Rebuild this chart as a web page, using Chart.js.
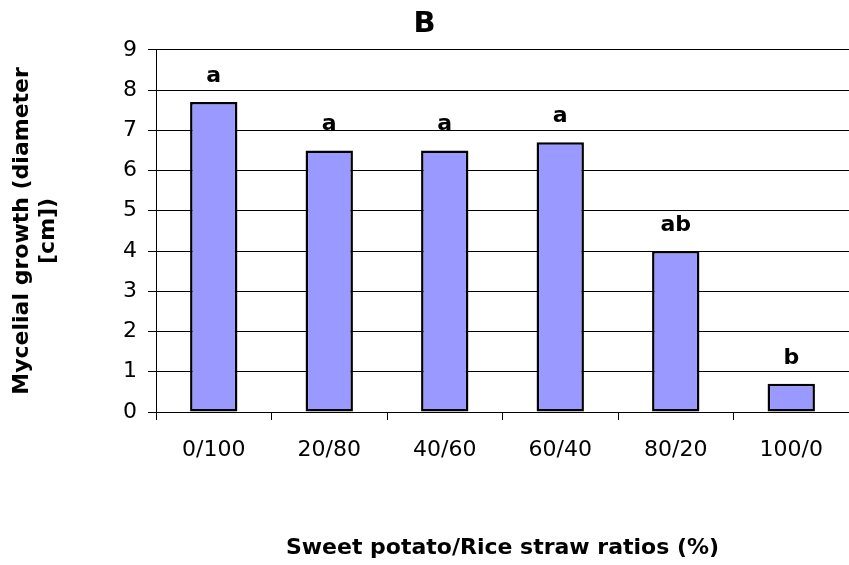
<!DOCTYPE html>
<html>
<head>
<meta charset="utf-8">
<script src="https://cdn.jsdelivr.net/npm/chart.js@4"></script>
<style>
  body { margin: 0; background: #fff; }
</style>
</head>
<body>
<canvas id="myChart" width="849" height="565"></canvas>
<script>
const ratios = ["0/100", "20/80", "40/60", "60/40", "80/20", "100/0"];
const growth = [7.7, 6.5, 6.5, 6.7, 4.0, 0.7];
const letters = ["a", "a", "a", "a", "ab", "b"];

const FONT = "'DejaVu Sans', sans-serif";

// significance letters above each bar
const letterPlugin = {
  id: "letters",
  afterDatasetsDraw(chart) {
    const c = chart.ctx;
    const meta = chart.getDatasetMeta(0);
    c.save();
    c.font = "bold 22px " + FONT;
    c.fillStyle = "#000";
    c.textAlign = "center";
    c.textBaseline = "middle";
    meta.data.forEach((bar, i) => {
      c.fillText(letters[i], bar.x, bar.y - 26);
    });
    c.restore();
  },
};

const ctx = document.getElementById("myChart").getContext("2d");
const myChart = new Chart(ctx, {
  type: "bar",
  data: {
    labels: ratios,
    datasets: [
      {
        data: growth,
        backgroundColor: "#9999FF",
        borderColor: "#000",
        borderWidth: 2.5,
        borderSkipped: false,
        categoryPercentage: 1,
        barPercentage: 0.41,
      },
    ],
  },
  options: {
    responsive: false,
    animation: false,
    layout: { padding: 0 },
    plugins: {
      legend: { display: false },
      tooltip: { enabled: false },
      title: {
        display: true,
        text: "B",
        color: "#000",
        font: { family: FONT, size: 29, weight: "bold", lineHeight: 1.2 },
        padding: { top: 7, bottom: 8 },
      },
    },
    scales: {
      x: {
        offset: true,
        grid: {
          offset: true,
          drawOnChartArea: false,
          drawTicks: true,
          tickLength: 8,
          color: "#000",
        },
        border: { color: "#000", width: 1 },
        ticks: {
          color: "#000",
          padding: 17,
          maxRotation: 0,
          font: { family: FONT, size: 22 },
        },
        title: {
          display: true,
          text: "Sweet potato/Rice straw ratios (%)",
          color: "#000",
          font: { family: FONT, size: 22, weight: "bold", lineHeight: 1.2 },
          padding: { top: 0, bottom: 4 },
        },
        afterFit(scale) {
          scale.height = 153;
        },
      },
      y: {
        min: 0,
        max: 9,
        grid: {
          color: "#000",
          lineWidth: 1,
          tickLength: 8,
        },
        border: { color: "#000", width: 1 },
        ticks: {
          stepSize: 1,
          color: "#000",
          padding: 11,
          font: { family: FONT, size: 22 },
        },
        title: {
          display: true,
          text: ["Mycelial growth (diameter", "[cm])"],
          color: "#000",
          font: { family: FONT, size: 22, weight: "bold", lineHeight: 1.2 },
          padding: { top: 9, bottom: 0 },
        },
        afterFit(scale) {
          scale.width = 156;
        },
      },
    },
  },
  plugins: [letterPlugin],
});
</script>
</body>
</html>
